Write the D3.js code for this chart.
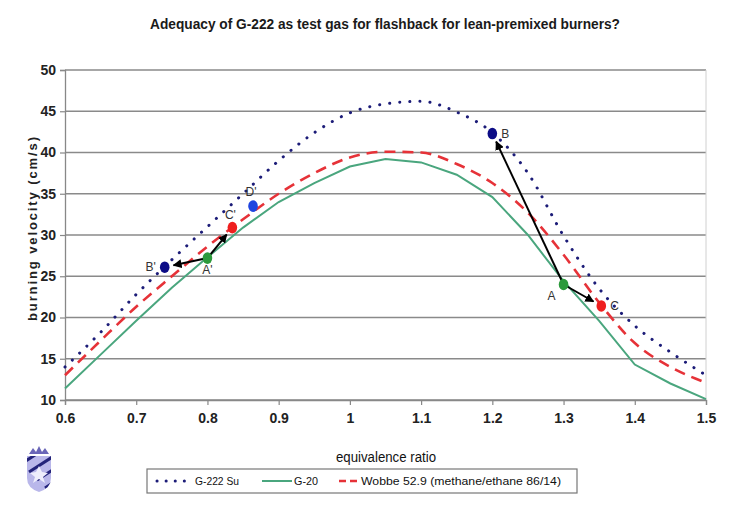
<!DOCTYPE html>
<html>
<head>
<meta charset="utf-8">
<script src="https://cdn.jsdelivr.net/npm/d3@7/dist/d3.min.js"></script>
<style>
  html, body { margin: 0; padding: 0; background: #fff; }
  svg { display: block; }
  text { font-family: "Liberation Sans Narrow", "Arial Narrow", "Liberation Sans", Arial, sans-serif; }
</style>
</head>
<body>
<svg id="chart" width="730" height="505"></svg>
<script>
// Equivalence ratio grid shared by the three burning-velocity curves
const phi = [0.6, 0.65, 0.7, 0.75, 0.8, 0.85, 0.9, 0.95, 1.0, 1.05, 1.1, 1.15, 1.2, 1.25, 1.3, 1.35, 1.4, 1.45, 1.5];
const g222 = [14.0, 18.2, 22.8, 27.0, 31.0, 35.0, 39.0, 42.4, 44.8, 45.9, 46.2, 44.9, 42.4, 37.5, 29.9, 23.5, 19.0, 15.8, 13.0];
const g20 = [11.4, 15.5, 19.6, 23.6, 27.3, 30.9, 34.0, 36.3, 38.3, 39.2, 38.8, 37.3, 34.6, 30.0, 24.4, 19.6, 14.3, 12.0, 10.1];
const wobbe = [13.0, 17.2, 21.3, 25.0, 28.6, 31.9, 35.0, 37.5, 39.4, 40.1, 40.0, 38.6, 36.3, 32.7, 27.6, 21.8, 16.9, 14.0, 12.1];

const seriesNames = ["G-222 Su", "G-20", "Wobbe 52.9 (methane/ethane 86/14)"];

// Marked operating points
const pointLabels = ["A'", "B'", "C'", "D'", "A", "B", "C"];
const pointPhi = [0.8, 0.74, 0.835, 0.864, 1.3, 1.2, 1.353];
const pointVel = [27.2, 26.1, 30.9, 33.5, 24.0, 42.3, 21.4];
const pointKind = ["g20", "g222", "wobbe", "g222b", "g20", "g222", "wobbe"];

// Arrows: from-label -> to-label
const arrowFrom = ["A'", "A'", "A", "A"];
const arrowTo = ["B'", "C'", "B", "C"];

const xTicks = [0.6, 0.7, 0.8, 0.9, 1, 1.1, 1.2, 1.3, 1.4, 1.5];
const yTicks = [10, 15, 20, 25, 30, 35, 40, 45, 50];

const titleText = "Adequacy of G-222 as test gas for flashback for lean-premixed burners?";
const xTitle = "equivalence ratio";
const yTitle = "burning velocity (cm/s)";

const svg = d3.select("#chart");
const plotLeft = 65, plotRight = 706, plotTop = 70, plotBottom = 400;

const x = d3.scaleLinear().domain([0.6, 1.5]).range([plotLeft, plotRight]);
const y = d3.scaleLinear().domain([10, 50]).range([plotBottom, plotTop]);

const colors = {
  g222: "#1c1c78", g20: "#4aa67e", wobbe: "#e63238",
  dotG20: "#2c9a3c", dotG222: "#0c0c86", dotG222b: "#1f45e0", dotWobbe: "#ef1f1f"
};

// Title
svg.append("text")
  .attr("x", 385).attr("y", 29)
  .attr("text-anchor", "middle")
  .attr("font-size", 14).attr("font-weight", "bold").attr("fill", "#1a1a1a")
  .attr("textLength", 470).attr("lengthAdjust", "spacingAndGlyphs")
  .text(titleText);

// Horizontal gridlines
svg.append("g")
  .selectAll("line").data(yTicks).join("line")
  .attr("x1", plotLeft).attr("x2", plotRight)
  .attr("y1", d => y(d)).attr("y2", d => y(d))
  .attr("stroke", "#8a8a8a").attr("stroke-width", 1.3);

// Right edge of plot area
svg.append("line")
  .attr("x1", plotRight).attr("x2", plotRight).attr("y1", plotTop).attr("y2", plotBottom)
  .attr("stroke", "#d0d0d0").attr("stroke-width", 1);

// Axes
const yAxis = svg.append("g")
  .attr("transform", `translate(${plotLeft},0)`)
  .call(d3.axisLeft(y).tickValues(yTicks).tickSize(5).tickPadding(4).tickFormat(d3.format("d")));
const xAxis = svg.append("g")
  .attr("transform", `translate(0,${plotBottom})`)
  .call(d3.axisBottom(x).tickValues(xTicks).tickSize(5).tickPadding(8).tickFormat(d => String(d)));
[yAxis, xAxis].forEach(a => {
  a.select(".domain").attr("stroke", "#888").attr("stroke-width", 1.3);
  a.selectAll(".tick line").attr("stroke", "#888").attr("stroke-width", 1.2);
  a.selectAll(".tick text")
    .attr("font-family", "'Liberation Sans Narrow','Arial Narrow','Liberation Sans',Arial,sans-serif")
    .attr("font-size", 14).attr("font-weight", "bold").attr("fill", "#222");
});

// Axis titles
svg.append("text")
  .attr("x", 386).attr("y", 462)
  .attr("text-anchor", "middle").attr("font-size", 14).attr("fill", "#111")
  .attr("textLength", 100).attr("lengthAdjust", "spacingAndGlyphs")
  .text(xTitle);
svg.append("text")
  .attr("transform", "translate(37,229) rotate(-90)")
  .attr("text-anchor", "middle").attr("font-size", 13).attr("font-weight", "bold")
  .attr("fill", "#222")
  .style("font-family", "'Liberation Sans', Arial, sans-serif")
  .attr("textLength", 184).attr("lengthAdjust", "spacing")
  .text(yTitle);

// Curves
const rows = phi.map((p, i) => ({ p, a: g222[i], b: g20[i], c: wobbe[i] }));
const plot = svg.append("g");
plot.append("path").datum(rows)
  .attr("d", d3.line().x(d => x(d.p)).y(d => y(d.b)).curve(d3.curveLinear))
  .attr("fill", "none").attr("stroke", colors.g20).attr("stroke-width", 2);
plot.append("path").datum(rows)
  .attr("d", d3.line().x(d => x(d.p)).y(d => y(d.c)).curve(d3.curveMonotoneX))
  .attr("fill", "none").attr("stroke", colors.wobbe).attr("stroke-width", 2.6)
  .attr("stroke-dasharray", "11 7");
plot.append("path").datum(rows)
  .attr("d", d3.line().x(d => x(d.p)).y(d => y(d.a)).curve(d3.curveMonotoneX))
  .attr("fill", "none").attr("stroke", colors.g222).attr("stroke-width", 3)
  .attr("stroke-linecap", "round").attr("stroke-dasharray", "0.1 10");

// Arrows
const defs = svg.append("defs");
defs.append("marker")
  .attr("id", "head").attr("viewBox", "0 0 10 10")
  .attr("refX", 9).attr("refY", 5)
  .attr("markerWidth", 4.5).attr("markerHeight", 4.5)
  .attr("orient", "auto")
  .append("path").attr("d", "M0,0 L10,5 L0,10 Z").attr("fill", "#000");

const idx = l => pointLabels.indexOf(l);
arrowFrom.forEach((f, k) => {
  const i = idx(f), j = idx(arrowTo[k]);
  const x0 = x(pointPhi[i]), y0 = y(pointVel[i]);
  const x1 = x(pointPhi[j]), y1 = y(pointVel[j]);
  const len = Math.hypot(x1 - x0, y1 - y0);
  const stop = (len - 9) / len;
  plot.append("line")
    .attr("x1", x0).attr("y1", y0)
    .attr("x2", x0 + (x1 - x0) * stop).attr("y2", y0 + (y1 - y0) * stop)
    .attr("stroke", "#000").attr("stroke-width", 2)
    .attr("marker-end", "url(#head)");
});

// Point markers
const dotColor = { g20: colors.dotG20, g222: colors.dotG222, g222b: colors.dotG222b, wobbe: colors.dotWobbe };
plot.append("g").selectAll("ellipse").data(pointLabels).join("ellipse")
  .attr("cx", (d, i) => x(pointPhi[i])).attr("cy", (d, i) => y(pointVel[i]))
  .attr("rx", 4.8).attr("ry", 5.8)
  .attr("fill", (d, i) => dotColor[pointKind[i]]);

// Point labels
const labelOffset = {
  "A'": [0, 16, "middle"], "B'": [-9, 4, "end"], "C'": [-2, -9, "middle"], "D'": [-2, -10, "middle"],
  "A": [-12, 15, "middle"], "B": [9, 4, "start"], "C": [9, 4, "start"]
};
plot.append("g").selectAll("text").data(pointLabels).join("text")
  .attr("x", (d, i) => x(pointPhi[i]) + labelOffset[d][0])
  .attr("y", (d, i) => y(pointVel[i]) + labelOffset[d][1])
  .attr("text-anchor", d => labelOffset[d][2])
  .attr("font-size", 12).attr("fill", "#333")
  .text(d => d);

// Legend
const lg = svg.append("g");
lg.append("rect").attr("x", 147).attr("y", 469).attr("width", 430).attr("height", 24)
  .attr("fill", "#fff").attr("stroke", "#777").attr("stroke-width", 1.2);
const ly = 481;
lg.append("line").attr("x1", 157).attr("x2", 190).attr("y1", ly).attr("y2", ly)
  .attr("stroke", colors.g222).attr("stroke-width", 3).attr("stroke-linecap", "round")
  .attr("stroke-dasharray", "0.1 9");
lg.append("line").attr("x1", 262).attr("x2", 292).attr("y1", ly).attr("y2", ly)
  .attr("stroke", colors.g20).attr("stroke-width", 2);
lg.append("line").attr("x1", 339).attr("x2", 360).attr("y1", ly).attr("y2", ly)
  .attr("stroke", colors.wobbe).attr("stroke-width", 2.6).attr("stroke-dasharray", "7 4");
const legendX = [195, 294, 361];
const legendW = [44, 24, 200];
lg.selectAll("text.lt").data(seriesNames).join("text")
  .attr("class", "lt")
  .attr("x", (d, i) => legendX[i]).attr("y", ly + 4)
  .attr("font-size", 11).attr("fill", "#111")
  .attr("textLength", (d, i) => legendW[i]).attr("lengthAdjust", "spacingAndGlyphs")
  .text(d => d);

// Crest emblem in the lower-left corner
const logo = svg.append("g").attr("transform", "translate(25,446)");
logo.append("path")
  .attr("d", "M4,8 L8,2 L11,6 L14,0 L17,6 L20,2 L24,8 Z")
  .attr("fill", "#6a66b8");
const shieldPath = "M2,10 L26,10 L26,32 Q26,42 14,46 Q2,42 2,32 Z";
logo.append("path").attr("d", shieldPath).attr("fill", "#b9b7ea");
const clip = defs.append("clipPath").attr("id", "shield");
clip.append("path").attr("d", shieldPath);
const stripes = logo.append("g").attr("clip-path", "url(#shield)");
[0, 8, 16, 24, 32, 40].forEach(o => {
  stripes.append("line").attr("x1", o - 12).attr("y1", 10 + o).attr("x2", o + 16).attr("y2", o - 18 + 10)
    .attr("stroke", "#23237a").attr("stroke-width", 3);
});
logo.append("path")
  .attr("d", "M14,20 L17,26 L23,27 L18,31 L20,37 L14,33 L8,37 L10,31 L5,27 L11,26 Z")
  .attr("fill", "#eeeefc");
</script>
</body>
</html>
